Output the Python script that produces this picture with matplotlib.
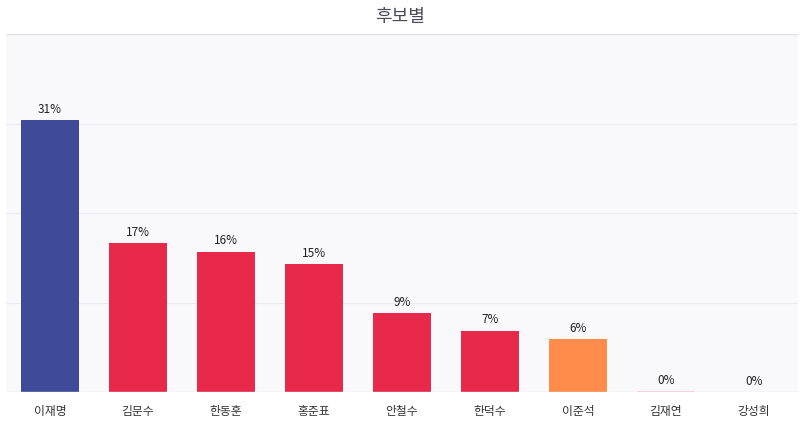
import matplotlib

matplotlib.use("Agg")
import matplotlib.pyplot as plt

plt.rcParams["font.family"] = ["Noto Sans CJK KR", "DejaVu Sans"]

# Data
candidates = ["이재명", "김문수", "한동훈", "홍준표", "안철수", "한덕수", "이준석", "김재연", "강성희"]
support = [31, 17, 16, 14.6, 9, 7, 6, 0.15, 0]
bar_colors = ["#3f4b99", "#e8294b", "#e8294b", "#e8294b", "#e8294b", "#e8294b",
              "#ff8c4a", "#f6d3da", "#e8294b"]
title = "후보별"

fig = plt.figure(figsize=(8.0, 4.24), dpi=100)
ax = fig.add_axes([6 / 800, 1 - 392 / 424, 792 / 800, 358 / 424])
ax.set_facecolor("#f9f9fb")

x = list(range(len(candidates)))
bars = ax.bar(x, support, width=0.67, color=bar_colors, zorder=3)

ymax = 40.8
ax.set_ylim(0, ymax)
ax.set_xlim(-0.5, len(candidates) - 0.5)
for gy in [ymax / 4, ymax / 2, ymax * 3 / 4]:
    ax.axhline(gy, color="#ececf0", linewidth=0.9, zorder=1)
ax.axhline(ymax, color="#e2e2e6", linewidth=1.0, zorder=1)
ax.axhline(0, color="#e2e2e6", linewidth=1.0, zorder=4)

for bar, v in zip(bars, support):
    ax.annotate(
        f"{round(v)}%",
        xy=(bar.get_x() + bar.get_width() / 2, bar.get_height()),
        xytext=(0, 3),
        textcoords="offset points",
        ha="center",
        va="bottom",
        fontsize=8.5,
        color="#222222",
    )

ax.set_xticks(x)
ax.set_xticklabels(candidates, fontsize=8.5, color="#333333")
ax.tick_params(axis="x", length=0, pad=9)
ax.set_yticks([])
for s in ax.spines.values():
    s.set_visible(False)

fig.text(0.5, 1 - 17 / 424, title, ha="center", va="center", fontsize=13, color="#4a4a5a")

fig.savefig("out.png", dpi=100)
